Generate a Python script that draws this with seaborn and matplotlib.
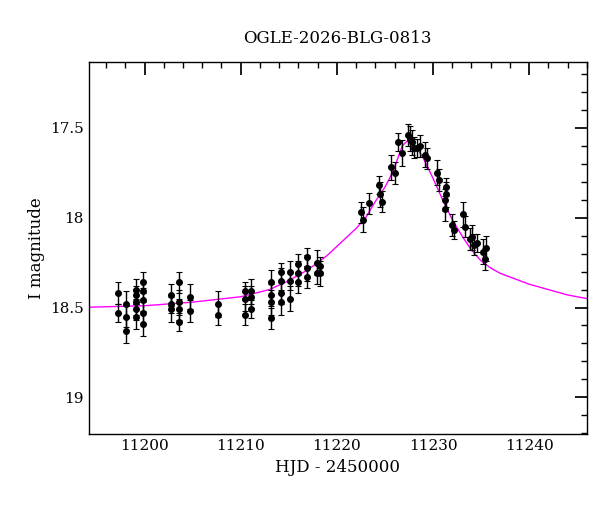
import matplotlib
matplotlib.use("agg")
import matplotlib.pyplot as plt
from matplotlib.ticker import MultipleLocator
import seaborn as sns

# observed photometry (HJD - 2450000, I mag)
hjd = [11197.2, 11197.2, 11198.1, 11198.1, 11198.1,
       11199.1, 11199.1, 11199.1, 11199.1, 11199.1,
       11199.8, 11199.8, 11199.8, 11199.8, 11199.8,
       11202.8, 11202.8, 11202.8, 11203.6, 11203.6, 11203.6, 11203.6,
       11204.7, 11204.7, 11207.6, 11207.6,
       11210.4, 11210.4, 11210.4, 11211.1, 11211.1, 11211.1,
       11213.2, 11213.2, 11213.2, 11213.2, 11214.2, 11214.2, 11214.2, 11214.2,
       11215.1, 11215.1, 11215.1, 11216.0, 11216.0, 11216.0,
       11216.9, 11216.9, 11216.9, 11217.9, 11217.9, 11218.3, 11218.3,
       11222.5, 11222.7, 11223.3, 11224.4, 11224.5, 11224.7,
       11225.6, 11226.0, 11226.4, 11226.8, 11227.4, 11227.6, 11228.0,
       11228.3, 11229.2, 11229.4, 11230.4, 11230.6, 11231.4, 11231.4,
       11231.2, 11231.3, 11232.0, 11232.2, 11233.1, 11233.3, 11234.1,
       11234.3, 11234.6, 11235.2, 11235.4, 11235.5, 11233.8, 11227.8, 11228.6]
imag = [18.42, 18.53, 18.48, 18.55, 18.63,
        18.40, 18.43, 18.47, 18.51, 18.55,
        18.36, 18.41, 18.46, 18.53, 18.59,
        18.43, 18.48, 18.51, 18.36, 18.47, 18.51, 18.58,
        18.44, 18.52, 18.48, 18.54,
        18.41, 18.45, 18.54, 18.41, 18.44, 18.51,
        18.36, 18.43, 18.47, 18.56, 18.30, 18.35, 18.42, 18.47,
        18.30, 18.35, 18.45, 18.26, 18.31, 18.36,
        18.22, 18.28, 18.33, 18.25, 18.31, 18.27, 18.31,
        17.97, 18.01, 17.92, 17.82, 17.87, 17.91,
        17.72, 17.75, 17.58, 17.64, 17.54, 17.56, 17.61,
        17.61, 17.65, 17.67, 17.75, 17.79, 17.83, 17.87,
        17.90, 17.95, 18.04, 18.07, 17.98, 18.05, 18.11,
        18.15, 18.14, 18.19, 18.23, 18.17, 18.12, 17.58, 17.60]
ierr = [0.06, 0.05, 0.07, 0.06, 0.07] * 17 + [0.06, 0.07, 0.06]

# model curve
model_t = [11193, 11200, 11205, 11210, 11213, 11215, 11217, 11218, 11219,
           11220, 11221, 11222, 11223, 11224, 11225, 11225.5, 11226, 11226.4,
           11226.8, 11227.3, 11227.8, 11228.3, 11229, 11230, 11231, 11232,
           11233, 11234, 11235, 11236, 11237, 11238, 11240, 11242, 11244, 11246]
model_m = [18.50, 18.49, 18.47, 18.44, 18.40, 18.35, 18.29, 18.25, 18.21,
           18.16, 18.11, 18.06, 18.00, 17.91, 17.83, 17.78, 17.72, 17.66,
           17.60, 17.575, 17.58, 17.61, 17.67, 17.78, 17.90, 18.01,
           18.10, 18.18, 18.24, 18.28, 18.31, 18.33, 18.37, 18.40, 18.43, 18.45]

sns.set_theme(style="white")
plt.rcParams['font.family'] = ['DejaVu Serif']

fig, ax = plt.subplots(figsize=(6, 5.12), dpi=100)
fig.subplots_adjust(left=0.148, right=0.978, top=0.879, bottom=0.152)

sns.lineplot(x=model_t, y=model_m, ax=ax, color="magenta", lw=1.0, sort=False)
ax.errorbar(hjd, imag, yerr=ierr, fmt='o', color='black', ms=4,
            ecolor='black', elinewidth=1, capsize=2.5, capthick=0.8)

ax.set_xlim(11194.2, 11246.0)
ax.set_ylim(19.205, 17.133)
ax.xaxis.set_major_locator(MultipleLocator(10))
ax.xaxis.set_minor_locator(MultipleLocator(2))
ax.yaxis.set_major_locator(MultipleLocator(0.5))
ax.yaxis.set_minor_locator(MultipleLocator(0.1))
ax.set_yticks([17.5, 18, 18.5, 19])
ax.set_yticklabels(['17.5', '18', '18.5', '19'])
ax.tick_params(which='both', direction='in', top=True, right=True, color='black',
               labelcolor='black', labelsize=11)
ax.tick_params(which='major', length=9)
ax.tick_params(which='minor', length=4.5)
for s in ax.spines.values():
    s.set_color('black')
    s.set_linewidth(1)

ax.set_xlabel("HJD - 2450000", fontsize=12, color='black')
ax.set_ylabel("I magnitude", fontsize=12, color='black')
ax.set_title("OGLE-2026-BLG-0813", fontsize=12, pad=14, color='black')

fig.savefig("out.png")
